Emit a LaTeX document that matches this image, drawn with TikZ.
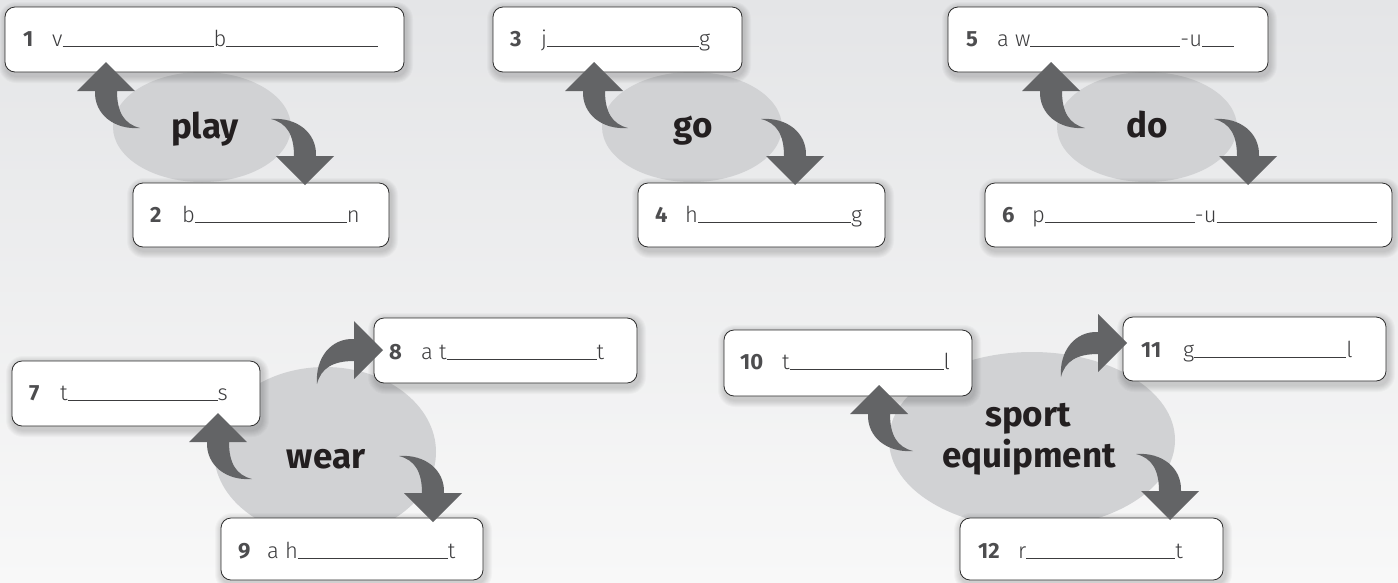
\documentclass[tikz,border=0pt]{standalone}
\usepackage{fontspec}
\setmainfont{Fira Sans}
\IfFontExistsTF{Fira Sans Light}
  {\newfontfamily\stemfont{Fira Sans Light}}
  {\newfontfamily\stemfont{Fira Sans}}
\usetikzlibrary{shapes.geometric}

\definecolor{bgtop}{RGB}{228,229,231}
\definecolor{bgbot}{RGB}{248,248,248}
\definecolor{hubfill}{RGB}{209,210,212}
\definecolor{arrowgray}{RGB}{99,100,102}
\definecolor{numgray}{RGB}{77,77,79}
\definecolor{wordgray}{RGB}{60,60,62}
\definecolor{framegray}{RGB}{45,45,45}
\definecolor{hubtext}{RGB}{35,31,32}

% answer line of a given length (in pt)
\newcommand\gap[1]{\rule[-0.6pt]{#1pt}{0.8pt}}

% rounded answer box with a soft shadow: name, left, top, right, bottom
\newcommand\mkbox[5]{%
  \foreach \k in {1,...,7}{%
    \fill[boxshadow, rounded corners={(10+\k)*1pt}]
      ({#2+1-\k},{#3+2-\k}) rectangle ({#4+2+\k},{#5+4+\k});}
  \node[answerbox, minimum width={(#4-#2)*1pt}, minimum height={(#5-#3)*1pt}]
    (#1) at ({(#2+#4)/2},{(#3+#5)/2}) {};}

\tikzset{
  boxshadow/.style={black, opacity=0.022},
  answerbox/.style={draw=framegray, line width=0.8pt, fill=white,
    rounded corners=10pt, inner sep=0pt},
  hubshape/.style={ellipse, fill=hubfill, draw=none, inner sep=0pt},
  numlabel/.style={anchor=base west, inner sep=0pt, text=numgray,
    font=\fontsize{22}{26}\selectfont\bfseries},
  wordlabel/.style={anchor=base west, inner sep=0pt, text=wordgray,
    font=\fontsize{22}{26}\selectfont\stemfont},
  hubword/.style={anchor=base, inner sep=0pt, text=hubtext,
    font=\fontsize{35}{41}\selectfont\bfseries},
  bendarrow/.pic={
    \fill[arrowgray] (-29,29) -- (0,0) -- (29,29) -- (11,29)
      .. controls (11,50) and (18,62) .. (34,66)
      .. controls (8,68) and (-12,52) .. (-11,29) -- cycle;
  }
}

\begin{document}
\begin{tikzpicture}[x=1pt, y=-1pt]
\useasboundingbox (0,0) rectangle (1398,582);
\shade[top color=bgtop, bottom color=bgbot] (0,0) rectangle (1398,582);

% hubs
\node[hubshape, minimum width=178pt, minimum height=110pt] (play) at (202,127) {};
\node[hubshape, minimum width=180pt, minimum height=110pt] (go) at (692,127) {};
\node[hubshape, minimum width=180pt, minimum height=110pt] (do) at (1147,127) {};
\node[hubshape, minimum width=222pt, minimum height=170pt] (wear) at (325,452) {};
\node[hubshape, minimum width=286pt, minimum height=176pt] (sport) at (1032,440) {};

% answer boxes
\mkbox{b1}{5}{7}{404}{72}
\mkbox{b2}{133}{183}{389}{247}
\mkbox{b3}{493}{7}{742}{72}
\mkbox{b4}{638}{183}{885}{247}
\mkbox{b5}{948}{7}{1268}{72}
\mkbox{b6}{985}{183}{1392}{247}
\mkbox{b7}{12}{361}{260}{426}
\mkbox{b8}{374}{318}{637}{383}
\mkbox{b9}{221}{518}{483}{580}
\mkbox{b10}{724}{330}{972}{396}
\mkbox{b11}{1123}{317}{1386}{381}
\mkbox{b12}{960}{518}{1223}{580}

% hub words
\node[hubword] (tplay) at (205,138) {play};
\node[hubword] (tgo) at (693,137) {go};
\node[hubword] (tdo) at (1147,137) {do};
\node[hubword] (twear) at (326,468) {wear};
\node[hubword] (tsport) at (1028,426) {sport};
\node[hubword] (tequip) at (1029,467) {equipment};

% numbers and answer stems
\node[numlabel] (n1) at (23,46.5) {1};
\node[wordlabel] (w1) at (52,46.5) {v\gap{151}b\gap{152}};
\node[numlabel] (n2) at (150,222) {2};
\node[wordlabel] (w2) at (182,222) {b\gap{152}n};
\node[numlabel] (n3) at (510,46.5) {3};
\node[wordlabel] (w3) at (541,46.5) {j\gap{152}g};
\node[numlabel] (n4) at (655,222) {4};
\node[wordlabel] (w4) at (685,222) {h\gap{153}g};
\node[numlabel] (n5) at (966,46.5) {5};
\node[wordlabel] (w5) at (997,46.5) {a w\gap{150}-u\gap{32}};
\node[numlabel] (n6) at (1002,222) {6};
\node[wordlabel] (w6) at (1032,222) {p\gap{150}-u\gap{160}};
\node[numlabel] (n7) at (29,400) {7};
\node[wordlabel] (w7) at (60,400) {t\gap{150}s};
\node[numlabel] (n8) at (389,359) {8};
\node[wordlabel] (w8) at (421,359) {a t\gap{150}t};
\node[numlabel] (n9) at (238,558) {9};
\node[wordlabel] (w9) at (267,558) {a h\gap{150}t};
\node[numlabel] (n10) at (740,369) {10};
\node[wordlabel] (w10) at (782,369) {t\gap{154}l};
\node[numlabel] (n11) at (1141,357) {11};
\node[wordlabel] (w11) at (1183,357) {g\gap{152}l};
\node[numlabel] (n12) at (978,558) {12};
\node[wordlabel] (w12) at (1018,558) {r\gap{149}t};

% bent arrows from each hub to its boxes
\pic at (106,62) {bendarrow};
\pic[rotate=180] at (305,185) {bendarrow};
\pic at (594,62) {bendarrow};
\pic[rotate=180] at (795,185) {bendarrow};
\pic at (1051,62) {bendarrow};
\pic[rotate=180] at (1248,185) {bendarrow};
\pic at (218,413) {bendarrow};
\pic[rotate=-90] at (383,350) {bendarrow};
\pic[rotate=180] at (433,522) {bendarrow};
\pic at (879,385) {bendarrow};
\pic[rotate=-90] at (1127,343) {bendarrow};
\pic[rotate=180] at (1170,520) {bendarrow};
\end{tikzpicture}
\end{document}
